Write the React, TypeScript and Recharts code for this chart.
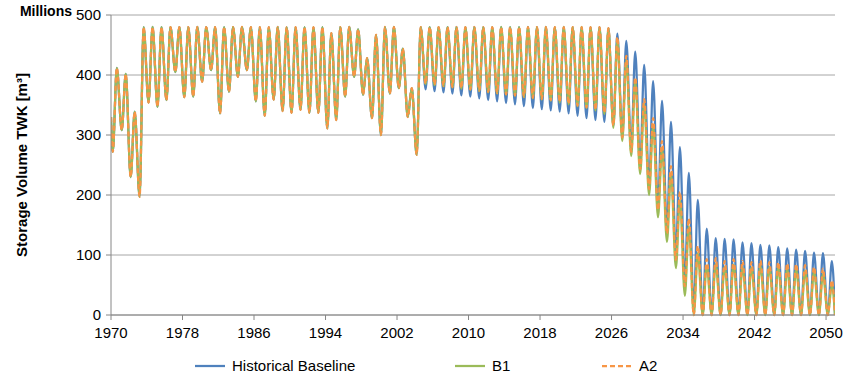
import { LineChart, Line, XAxis, YAxis, CartesianGrid, Legend, Label } from "recharts";

// years 1970..2050, one fill/draw cycle per year
const YEARS = Array.from({ length: 81 }, (_, i) => 1970 + i);

// shared historical record 1970-2004 (millions m3)
const HIST_TROUGH = [
  272, 308, 230, 197, 354, 347, 358, 405, 363, 364,
  389, 408, 336, 372, 397, 408, 356, 332, 359, 340,
  337, 342, 337, 337, 311, 325, 364, 397, 367, 328,
  300, 369, 378, 330, 267,
];
const HIST_PEAK = [
  412, 402, 339, 480, 480, 480, 480, 480, 480, 480,
  480, 480, 480, 480, 480, 480, 480, 480, 480, 480,
  480, 480, 480, 480, 470, 480, 480, 476, 428, 467,
  480, 480, 444, 378, 480,
];

// 2005-2050 per scenario
const BASE_TROUGH = [
  376, 373, 371, 369, 366, 364, 361, 358, 356, 353,
  351, 348, 345, 343, 341, 339, 336, 332, 328, 325,
  322, 315, 298, 276, 248, 215, 180, 142, 100, 55,
  8, 0, 0, 0, 0, 0, 0, 0, 0, 0,
  0, 0, 0, 0, 0, 0,
];
const BASE_PEAK = [
  480, 480, 480, 480, 480, 480, 480, 480, 480, 480,
  480, 480, 480, 480, 480, 480, 480, 480, 480, 480,
  478, 469, 457, 439, 417, 390, 357, 322, 280, 237,
  192, 144, 128, 127, 126, 121, 120, 117, 116, 113,
  111, 109, 107, 104, 103, 90,
];
const B1_TROUGH = [
  385, 383, 381, 379, 377, 375, 373, 371, 369, 367,
  365, 363, 361, 359, 357, 354, 351, 348, 345, 341,
  335, 312, 290, 265, 235, 200, 163, 122, 78, 32,
  0, 0, 0, 0, 0, 0, 0, 0, 0, 0,
  0, 0, 0, 0, 0, 0,
];
const B1_PEAK = [
  480, 480, 480, 480, 480, 480, 480, 480, 480, 480,
  480, 480, 480, 480, 480, 480, 480, 480, 480, 480,
  478, 458, 425, 390, 352, 316, 278, 236, 192, 148,
  103, 82, 85, 80, 84, 80, 79, 82, 80, 79,
  77, 76, 74, 72, 68, 50,
];
const A2_TROUGH = [
  386, 384, 382, 380, 378, 376, 374, 372, 370, 368,
  366, 364, 362, 360, 358, 355, 352, 349, 346, 342,
  337, 316, 296, 272, 243, 210, 175, 136, 92, 48,
  0, 0, 0, 0, 0, 0, 0, 0, 0, 0,
  0, 0, 0, 0, 0, 0,
];
const A2_PEAK = [
  480, 480, 480, 480, 480, 480, 480, 480, 480, 480,
  480, 480, 480, 480, 480, 480, 480, 480, 480, 480,
  478, 463, 432, 396, 360, 328, 290, 248, 205, 161,
  115, 93, 95, 90, 93, 90, 88, 91, 88, 88,
  86, 85, 83, 80, 77, 58,
];

const START_VALUE = 330;
const END_VALUE = 0;

const X_TICKS = [1970, 1978, 1986, 1994, 2002, 2010, 2018, 2026, 2034, 2042, 2050];
const Y_TICKS = [0, 100, 200, 300, 400, 500];

const BLUE = "#4f81bd";
const GREEN = "#9bbb59";
const ORANGE = "#f79646";

const series = {
  baseline: { trough: [...HIST_TROUGH, ...BASE_TROUGH], peak: [...HIST_PEAK, ...BASE_PEAK] },
  b1: { trough: [...HIST_TROUGH, ...B1_TROUGH], peak: [...HIST_PEAK, ...B1_PEAK] },
  a2: { trough: [...HIST_TROUGH, ...A2_TROUGH], peak: [...HIST_PEAK, ...A2_PEAK] },
};

const data: { t: number; baseline: number; b1: number; a2: number }[] = [
  { t: 1970, baseline: START_VALUE, b1: START_VALUE, a2: START_VALUE },
];
YEARS.forEach((y, i) => {
  data.push({
    t: y + 0.2,
    baseline: series.baseline.trough[i],
    b1: series.b1.trough[i],
    a2: series.a2.trough[i],
  });
  data.push({
    t: y + 0.65,
    baseline: series.baseline.peak[i],
    b1: series.b1.peak[i],
    a2: series.a2.peak[i],
  });
});
data.push({ t: 2051, baseline: END_VALUE, b1: END_VALUE, a2: END_VALUE });

const FONT = "'Liberation Sans', Arial, sans-serif";

function LegendBox() {
  const item = (left: number, color: string, text: string, dash?: string) => (
    <div style={{ position: "absolute", left, top: 6, display: "flex", alignItems: "center" }}>
      <svg width={31} height={14}>
        <line x1={0} y1={7} x2={30} y2={7} stroke={color} strokeWidth={2.25} strokeDasharray={dash} />
      </svg>
      <span style={{ marginLeft: 6, fontSize: 15, fontFamily: FONT, color: "#000" }}>{text}</span>
    </div>
  );
  return (
    <div style={{ position: "relative", width: 835, height: 30 }}>
      {item(195, BLUE, "Historical Baseline")}
      {item(455, GREEN, "B1")}
      {item(602, ORANGE, "A2", "5 3")}
    </div>
  );
}

export default function App() {
  return (
    <div style={{ position: "absolute", left: 0, top: 0, background: "#fff" }}>
      <LineChart
        width={850}
        height={387}
        data={data}
        margin={{ top: 15, right: 15, left: 0, bottom: 6 }}
      >
        <CartesianGrid vertical={false} stroke="#a6a6a6" />
        <XAxis
          dataKey="t"
          type="number"
          domain={[1970, 2051]}
          allowDataOverflow
          ticks={X_TICKS}
          interval={0}
          height={36}
          tickSize={5}
          tickMargin={7}
          axisLine={{ stroke: "#868686" }}
          tickLine={{ stroke: "#868686" }}
          tick={{ fill: "#000", fontSize: 15, fontFamily: FONT }}
        />
        <YAxis
          type="number"
          domain={[0, 500]}
          ticks={Y_TICKS}
          width={111}
          tickSize={5}
          tickMargin={5}
          axisLine={{ stroke: "#868686" }}
          tickLine={{ stroke: "#868686" }}
          tick={{ fill: "#000", fontSize: 15, fontFamily: FONT }}
        >
          <Label
            content={() => (
              <text
                x={27}
                y={165}
                transform="rotate(-90 27 165)"
                textAnchor="middle"
                fontSize={15}
                fontWeight="bold"
                fontFamily={FONT}
                fill="#000"
              >
                Storage Volume TWK [m³]
              </text>
            )}
          />
          <Label
            content={() => (
              <text x={72} y={16} textAnchor="end" fontSize={14} fontWeight="bold" fontFamily={FONT} fill="#000">
                Millions
              </text>
            )}
          />
        </YAxis>
        <Legend verticalAlign="bottom" content={() => <LegendBox />} />
        <Line type="monotone" dataKey="baseline" name="Historical Baseline" stroke={BLUE} strokeWidth={2.25} dot={false} isAnimationActive={false} />
        <Line type="monotone" dataKey="b1" name="B1" stroke={GREEN} strokeWidth={2.25} dot={false} isAnimationActive={false} />
        <Line type="monotone" dataKey="a2" name="A2" stroke={ORANGE} strokeWidth={2.25} strokeDasharray="5 3" dot={false} isAnimationActive={false} />
      </LineChart>
    </div>
  );
}
